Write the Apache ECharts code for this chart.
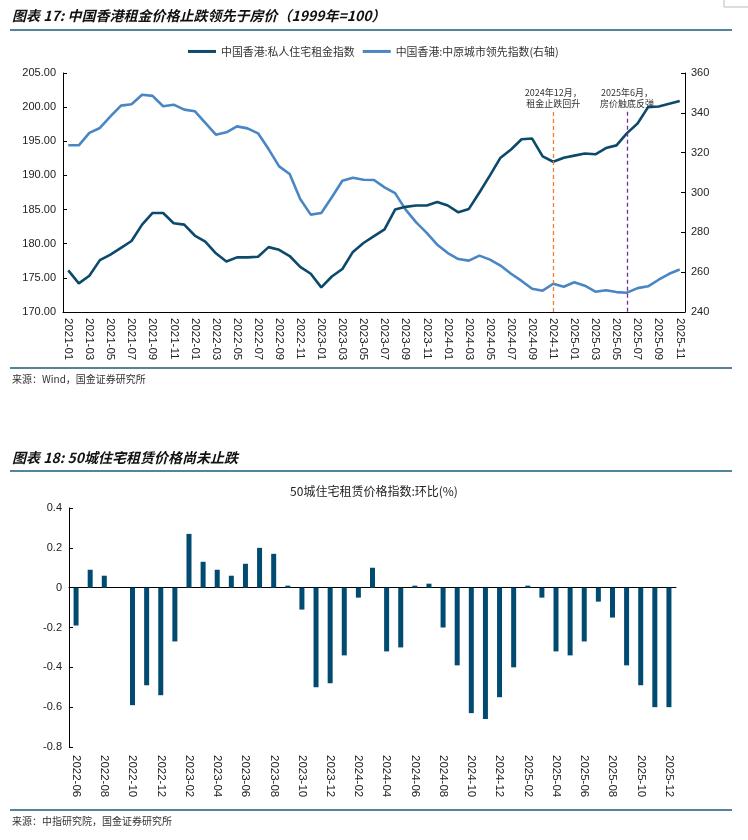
<!DOCTYPE html>
<html>
<head>
<meta charset="utf-8">
<script src="https://cdn.jsdelivr.net/npm/echarts@6/dist/echarts.min.js"></script>
<style>
html,body{margin:0;padding:0;background:#fff;}
#c{width:748px;height:840px;}
</style>
</head>
<body>
<div id="c"></div>
<script>
function monthRange(y0, m0, y1, m1) {
  var out = [], y = y0, m = m0;
  while (y < y1 || (y === y1 && m <= m1)) {
    out.push(y + '-' + (m < 10 ? '0' + m : '' + m));
    m++; if (m > 12) { m = 1; y++; }
  }
  return out;
}

// Chart 17 data (2021-01 .. 2025-11)
var months17 = monthRange(2021, 1, 2025, 11);
var rentIndex = [176.1,174.2,175.3,177.6,178.4,179.4,180.4,182.8,184.5,184.5,
                 183.0,182.8,181.2,180.3,178.6,177.4,178.0,178.0,178.1,179.5,
                 179.1,178.2,176.6,175.6,173.6,175.2,176.3,178.8,180.1,181.1,
                 182.1,185.0,185.4,185.6,185.6,186.1,185.6,184.6,185.1,187.5,
                 190.0,192.6,193.8,195.3,195.4,192.8,192.0,192.6,192.9,193.2,
                 193.1,194.0,194.4,196.2,197.6,200.0,200.1,200.5,200.9];
var centaIndex = [323.7,323.7,329.9,332.4,338.2,343.6,344.3,349.1,348.5,343.3,
                  344.1,341.6,340.8,334.9,329.0,330.2,333.2,332.2,329.7,321.8,
                  313.1,309.3,296.7,288.9,289.7,297.6,305.9,307.4,306.4,306.3,
                  302.6,299.7,291.4,285.0,279.7,273.8,269.6,266.6,265.8,268.3,
                  266.3,263.3,259.2,255.6,251.7,250.7,254.2,252.7,254.9,253.2,
                  250.2,250.9,250.0,249.7,252.0,252.9,256.2,259.2,261.3];
// annotations
var annoRentIdx = 46, annoRentText = '2024年12月，\n租金止跌回升', annoRentColor = '#ed7d31';
var annoPriceIdx = 53, annoPriceText = '2025年6月，\n房价触底反弹', annoPriceColor = '#7030a0';
var annoTopLeft = 199.3, annoTopRight = 340.5;

// Chart 18 data (2022-06 .. 2025-12)
var months18 = monthRange(2022, 6, 2025, 12);
var rentMoM = [-0.19,0.09,0.06,0,-0.59,-0.49,-0.54,-0.27,0.27,0.13,
               0.09,0.06,0.12,0.20,0.17,0.01,-0.11,-0.50,-0.48,-0.34,
               -0.05,0.10,-0.32,-0.30,0.01,0.02,-0.20,-0.39,-0.63,-0.66,
               -0.55,-0.40,0.01,-0.05,-0.32,-0.34,-0.27,-0.07,-0.15,-0.39,
               -0.49,-0.60,-0.60];

var CJK = 'Noto Sans CJK SC';
var NUM = 'Liberation Sans, Arial, sans-serif';
var darkC = '#0b4a6b', lightC = '#4a86c4', barC = '#014b70', sepC = '#1b5a78';

function sep(y) {
  return {type:'line', shape:{x1:10, y1:y, x2:732, y2:y}, style:{stroke:sepC, lineWidth:1.5}};
}
function vMark(idx, top, bottom, text, color) {
  var ls = {color:color, type:[4,3], width:1.3, opacity:1};
  return {
    silent:true, symbol:['none','none'], animation:false,
    lineStyle:ls,
    itemStyle:{color:color},
    emphasis:{disabled:true},
    label:{show:true, position:'start', distance:3, fontSize:9, lineHeight:11, fontFamily:CJK, color:'#333', formatter:text},
    data:[[
      {coord:[months17[idx], top], lineStyle:ls, itemStyle:{color:color}},
      {coord:[months17[idx], bottom], lineStyle:ls, itemStyle:{color:color}}
    ]]
  };
}

var chart = echarts.init(document.getElementById('c'), null, {renderer:'canvas'});
var option = {
  animation:false,
  backgroundColor:'#fff',
  title:[
    {text:'图表 17: 中国香港租金价格止跌领先于房价（1999年=100）', left:12, top:9, padding:0,
     textStyle:{fontSize:14, fontWeight:'bold', fontStyle:'italic', fontFamily:CJK, color:'#111'}},
    {text:'来源：Wind，国金证券研究所', left:12, top:374, padding:0,
     textStyle:{fontSize:10, fontWeight:'normal', fontFamily:CJK, color:'#333'}},
    {text:'图表 18: 50城住宅租赁价格尚未止跌', left:12, top:451, padding:0,
     textStyle:{fontSize:14, fontWeight:'bold', fontStyle:'italic', fontFamily:CJK, color:'#111'}},
    {text:'50城住宅租赁价格指数:环比(%)', left:'center', top:485, padding:0,
     textStyle:{fontSize:12, fontWeight:'normal', fontFamily:CJK, color:'#222'}},
    {text:'来源：中指研究院，国金证券研究所', left:12, top:816, padding:0,
     textStyle:{fontSize:10, fontWeight:'normal', fontFamily:CJK, color:'#333'}}
  ],
  graphic:[
    sep(30), sep(368), sep(471), sep(810),
    {type:'line', shape:{x1:724, y1:0, x2:724, y2:7}, style:{stroke:'#bbb', lineWidth:1}},
    {type:'line', shape:{x1:724, y1:7, x2:748, y2:7}, style:{stroke:'#bbb', lineWidth:1}}
  ],
  legend:{
    top:41, left:183, icon:'rect', itemWidth:28, itemHeight:3, itemGap:8,
    textStyle:{fontSize:10.9, fontFamily:CJK, color:'#333'},
    data:['中国香港:私人住宅租金指数', '中国香港:中原城市领先指数(右轴)']
  },
  grid:[
    {left:63, right:63, top:73, bottom:528},
    {left:69, right:72, top:508, bottom:93}
  ],
  xAxis:[
    {gridIndex:0, type:'category', data:months17, boundaryGap:true,
     axisLine:{lineStyle:{color:'#000', width:1}},
     axisTick:{interval:1, inside:true, length:4, lineStyle:{color:'#000'}},
     axisLabel:{interval:1, rotate:-90, fontSize:11.5, fontFamily:NUM, color:'#222', margin:6},
     splitLine:{show:false}},
    {gridIndex:1, type:'category', data:months18, boundaryGap:true,
     axisLine:{onZero:true, lineStyle:{color:'#000', width:1}},
     axisTick:{interval:1, inside:true, length:4, lineStyle:{color:'#000'}},
     axisLabel:{show:false}, splitLine:{show:false}},
    {gridIndex:1, type:'category', data:months18, boundaryGap:true, position:'bottom',
     axisLine:{show:false, onZero:false}, axisTick:{show:false},
     axisLabel:{interval:1, rotate:-90, fontSize:11.5, fontFamily:NUM, color:'#222', margin:8},
     splitLine:{show:false}}
  ],
  yAxis:[
    {gridIndex:0, type:'value', position:'left', min:170, max:205, interval:5,
     axisLine:{show:true, lineStyle:{color:'#000'}},
     axisTick:{show:true, inside:true, length:4, lineStyle:{color:'#000'}},
     splitLine:{show:false},
     axisLabel:{formatter:function(v){return v.toFixed(2);}, fontSize:11, fontFamily:NUM, color:'#222', margin:7}},
    {gridIndex:0, type:'value', position:'right', min:240, max:360, interval:20,
     axisLine:{show:true, lineStyle:{color:'#000'}},
     axisTick:{show:true, inside:true, length:4, lineStyle:{color:'#000'}},
     splitLine:{show:false},
     axisLabel:{fontSize:11, fontFamily:NUM, color:'#222', margin:6}},
    {gridIndex:1, type:'value', position:'left', min:-0.8, max:0.4, interval:0.2,
     axisLine:{show:true, lineStyle:{color:'#000'}},
     axisTick:{show:true, inside:true, length:4, lineStyle:{color:'#000'}},
     splitLine:{show:false},
     axisLabel:{formatter:function(v){return Math.abs(v)<1e-9?'0':(Math.round(v*10)/10).toFixed(1);},
                fontSize:11, fontFamily:NUM, color:'#222', margin:7}}
  ],
  series:[
    {name:'中国香港:私人住宅租金指数', type:'line', xAxisIndex:0, yAxisIndex:0, data:rentIndex,
     symbol:'none', smooth:false, lineStyle:{width:2.6, color:darkC}, itemStyle:{color:darkC}, z:3,
     markLine:vMark(annoRentIdx, annoTopLeft, 170, annoRentText, annoRentColor)},
    {name:'中国香港:中原城市领先指数(右轴)', type:'line', xAxisIndex:0, yAxisIndex:1, data:centaIndex,
     symbol:'none', smooth:false, lineStyle:{width:2.6, color:lightC}, itemStyle:{color:lightC}, z:2,
     markLine:vMark(annoPriceIdx, annoTopRight, 240, annoPriceText, annoPriceColor)},
    {name:'50城住宅租赁价格指数:环比', type:'bar', xAxisIndex:1, yAxisIndex:2, data:rentMoM,
     barWidth:5, itemStyle:{color:barC}}
  ]
};
chart.setOption(option);
</script>
</body>
</html>
